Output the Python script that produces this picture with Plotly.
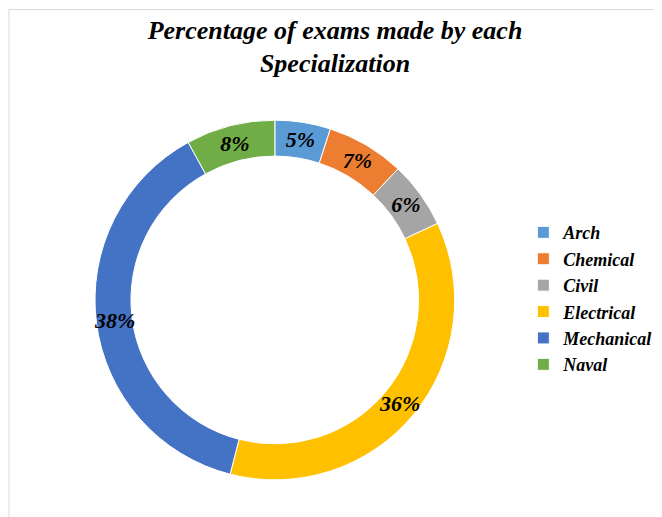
import plotly.graph_objects as go

specializations = ["Arch", "Chemical", "Civil", "Electrical", "Mechanical", "Naval"]
exam_share = [5, 7, 6, 36, 38, 8]
slice_colors = ["#5B9BD5", "#ED7D31", "#A5A5A5", "#FFC000", "#4472C4", "#70AD47"]

SERIF = "Liberation Serif, Times New Roman, serif"

fig = go.Figure()

# visible ring
fig.add_pie(
    labels=specializations,
    values=exam_share,
    marker=dict(colors=slice_colors, line=dict(color="white", width=1)),
    hole=0.8,
    sort=False,
    direction="clockwise",
    rotation=0,
    textinfo="none",
    domain=dict(x=[0.133, 0.683], y=[0.0727, 0.780]),
    hoverinfo="label+percent",
)

# transparent twin ring, slightly wider, only used to carry the big % labels
# at the middle of each slice
fig.add_pie(
    labels=specializations,
    values=exam_share,
    marker=dict(colors=["rgba(0,0,0,0)"] * len(exam_share), line=dict(width=0)),
    hole=0.72,
    sort=False,
    direction="clockwise",
    rotation=0,
    texttemplate="%{value}%",
    textposition="inside",
    insidetextorientation="horizontal",
    textfont=dict(family=SERIF, size=22, color="black", weight="bold", style="italic"),
    domain=dict(x=[0.1208, 0.6957], y=[0.057, 0.7957]),
    showlegend=False,
    hoverinfo="skip",
)

fig.update_layout(
    width=654,
    height=509,
    margin=dict(l=0, r=0, t=0, b=0),
    paper_bgcolor="white",
    title=dict(
        text="<b><i>Percentage of exams made by each<br>Specialization</i></b>",
        font=dict(family=SERIF, size=26, color="black"),
        x=0.5, xanchor="center",
        y=0.94, yanchor="top",
    ),
    legend=dict(
        x=0.788, xanchor="left",
        y=0.595, yanchor="top",
        font=dict(family=SERIF, size=18, color="black", weight="bold", style="italic"),
        itemwidth=30,
        bgcolor="rgba(0,0,0,0)",
        traceorder="normal",
    ),
    shapes=[dict(
        type="rect", xref="paper", yref="paper",
        x0=0.0015, x1=0.995, y0=-0.05, y1=0.997,
        line=dict(color="#d9d9d9", width=1),
    )],
)

fig.write_html("out.html")
